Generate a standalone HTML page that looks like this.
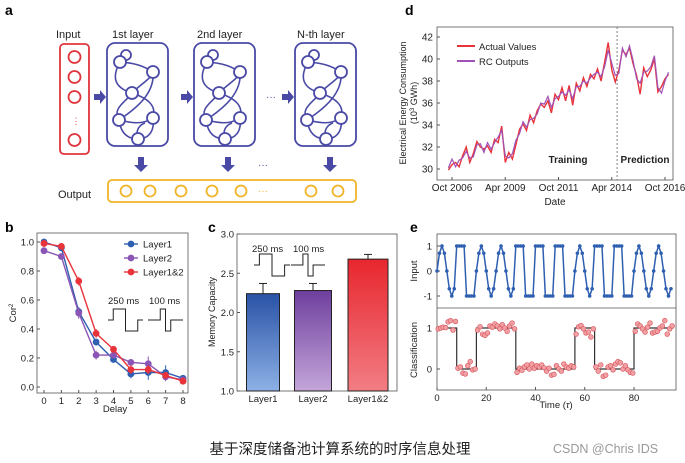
<!DOCTYPE html>
<html><head><meta charset="utf-8">
<style>
html,body{margin:0;padding:0;background:#fff;}
svg{display:block;font-family:"Liberation Sans","Noto Sans CJK SC",sans-serif;}
.t{font-size:9px;fill:#222;}
.lab{font-size:14px;font-weight:bold;fill:#000;}
</style></head>
<body>
<svg id="root" width="685" height="463" viewBox="0 0 685 463" xmlns="http://www.w3.org/2000/svg">
<defs>
<g id="net">
  <g fill="none" stroke="#4a4aa6" stroke-width="1.6">
    <path d="M13 19 C 30 20, 38 24, 46 29"/>
    <path d="M13 19 C 4 35, 8 45, 25 50"/>
    <path d="M25 50 C 35 40, 44 36, 46 29"/>
    <path d="M25 50 C 18 60, 5 65, 12 77"/>
    <path d="M25 50 C 40 55, 50 62, 46 75"/>
    <path d="M46 29 C 48 50, 30 65, 12 77"/>
    <path d="M12 77 C 25 80, 35 82, 46 75"/>
    <path d="M12 77 C 14 92, 22 96, 31 96"/>
    <path d="M46 75 C 48 90, 40 96, 31 96"/>
    <path d="M31 96 C 28 88, 32 82, 38 80"/>
  </g>
  <g fill="#fff" stroke="#4a4aa6" stroke-width="1.8">
    <circle cx="19" cy="12" r="5"/>
    <circle cx="13" cy="19" r="6"/>
    <circle cx="46" cy="29" r="6"/>
    <circle cx="25" cy="50" r="6"/>
    <circle cx="12" cy="77" r="6"/>
    <circle cx="46" cy="75" r="6"/>
    <circle cx="31" cy="96" r="6"/>
  </g>
</g>
<linearGradient id="gb" x1="0" y1="0" x2="0" y2="1"><stop offset="0" stop-color="#2a52a6"/><stop offset="1" stop-color="#8db1e6"/></linearGradient>
<linearGradient id="gp" x1="0" y1="0" x2="0" y2="1"><stop offset="0" stop-color="#6e3f9e"/><stop offset="1" stop-color="#c4a6d9"/></linearGradient>
<linearGradient id="gr" x1="0" y1="0" x2="0" y2="1"><stop offset="0" stop-color="#e8262e"/><stop offset="1" stop-color="#f27d84"/></linearGradient>
</defs>

<!-- Panel a -->
<g>
<text x="5" y="15" class="lab">a</text>
<text x="56" y="38" font-size="11" fill="#222">Input</text>
<text x="112" y="38" font-size="11" fill="#222">1st layer</text>
<text x="197" y="38" font-size="11" fill="#222">2nd layer</text>
<text x="297" y="38" font-size="11" fill="#222">N-th layer</text>
<g>
<rect x="60" y="44" width="29" height="110" rx="4" fill="#fff" stroke="#e0353d" stroke-width="1.8"/>
<g fill="none" stroke="#e0353d" stroke-width="1.8">
<circle cx="74.5" cy="57" r="6"/><circle cx="74.5" cy="77" r="6"/><circle cx="74.5" cy="97" r="6"/><circle cx="74.5" cy="140" r="6"/>
</g>
<text x="71.5" y="124" font-size="9" fill="#e0353d">⋮</text>
</g>
<g><rect x="107" y="43" width="61" height="103" rx="8" fill="#fff" stroke="#4a4aa6" stroke-width="1.8"/><use href="#net" x="107" y="43"/></g>
<g><rect x="194" y="43" width="61" height="103" rx="8" fill="#fff" stroke="#4a4aa6" stroke-width="1.8"/><use href="#net" x="194" y="43"/></g>
<g><rect x="295" y="43" width="61" height="103" rx="8" fill="#fff" stroke="#4a4aa6" stroke-width="1.8"/><use href="#net" x="295" y="43"/></g>
<g fill="#4a4aa6">
<path d="M94 94 h6 v-4 l6 7 -6 7 v-4 h-6z"/>
<path d="M181 94 h6 v-4 l6 7 -6 7 v-4 h-6z"/>
<path d="M282 94 h6 v-4 l6 7 -6 7 v-4 h-6z"/>
<path d="M138 157 h6 v8 h4 l-7 7 -7 -7 h4z"/>
<path d="M225 157 h6 v8 h4 l-7 7 -7 -7 h4z"/>
<path d="M327 157 h6 v8 h4 l-7 7 -7 -7 h4z"/>
</g>
<text x="266" y="100" font-size="10" fill="#4a4aa6">···</text>
<text x="258" y="168" font-size="10" fill="#4a4aa6">···</text>
<text x="58" y="198" font-size="11" fill="#222">Output</text>
<g>
<rect x="108" y="180" width="248" height="22" rx="4" fill="#fff" stroke="#f0b428" stroke-width="1.8"/>
<g fill="none" stroke="#f0b428" stroke-width="1.8">
<circle cx="126" cy="191" r="5.5"/><circle cx="150" cy="191" r="5.5"/><circle cx="181" cy="191" r="5.5"/><circle cx="212" cy="191" r="5.5"/><circle cx="241" cy="191" r="5.5"/><circle cx="311" cy="191" r="5.5"/><circle cx="338" cy="191" r="5.5"/>
</g>
<text x="258" y="194" font-size="10" fill="#f0b428">···</text>
</g>
</g>

<text x="405" y="15" class="lab">d</text>
<text x="208" y="232" class="lab">c</text>
<text x="5" y="232" class="lab">b</text>
<text x="410" y="232" class="lab">e</text>

<g id="pd"></g>
<g id="pb"></g>
<g id="pc"></g>
<g id="pe"></g>

<text x="340" y="454" text-anchor="middle" font-size="14.5" fill="#222">基于深度储备池计算系统的时序信息处理</text>
<text x="553" y="453" font-size="12.5" fill="#999">CSDN @Chris IDS</text>
</svg>

<script>
// ---- Panel d data (bimonthly, months from Oct 2006) ----
const dStartMonth = -2;
const dStepMonths = 2;
const dActual = [29.9,30.4,30.6, 30.2,31.2,32.0,30.6,31.4,32.5, 32.0,31.8,32.1,31.5,32.7,32.4, 33.9,30.6,31.5,30.9,32.2,33.6, 34.1,33.5,34.9,34.2,35.3,35.9, 35.6,36.2,35.1,36.8,36.3,37.4, 36.2,37.6,35.8,37.8,37.1,38.3, 37.5,38.6,38.2,39.1,38.0,39.7, 41.5,39.0,37.9,39.0,40.8,40.4, 41.0,39.6,38.5,36.8,39.2,38.4, 39.0,40.0,37.0,37.5,38.2,38.6];
const dRC =     [30.1,30.9,30.2, 30.8,31.0,31.6,31.0,31.1,32.2, 32.3,31.5,32.4,31.8,32.4,32.9, 33.5,31.2,31.0,31.4,32.6,33.2, 34.3,33.8,34.5,34.6,35.0,36.0, 35.9,36.6,35.6,36.4,36.6,37.0, 36.7,37.2,36.4,37.5,37.5,38.0, 37.8,38.3,38.6,38.8,38.4,39.3, 40.8,39.6,38.5,38.7,41.0,40.2, 41.2,39.9,38.2,37.8,38.8,38.9, 39.3,40.3,37.4,36.9,38.0,38.8];
const dTickLabels = ["Oct 2006","Apr 2009","Oct 2011","Apr 2014","Oct 2016"];
const dTickMonths = [0,30,60,90,120];
const dYTicks = [30,32,34,36,38,40,42];
const dSplitMonth = 93;

// ---- Panel b data ----
const bDelays = [0,1,2,3,4,5,6,7,8];
const bLayer1 = [1.0,0.96,0.52,0.31,0.19,0.09,0.10,0.10,0.06];
const bLayer2 = [0.94,0.90,0.51,0.22,0.22,0.17,0.16,0.07,0.05];
const bLayer12 = [0.99,0.97,0.73,0.37,0.26,0.12,0.12,0.08,0.04];
const bErr1 = [0.01,0.02,0.03,0.02,0.02,0.03,0.05,0.05,0.02];
const bErr2 = [0.01,0.02,0.04,0.03,0.02,0.02,0.05,0.03,0.02];
const bErr12 = [0.01,0.02,0.03,0.03,0.02,0.03,0.03,0.02,0.02];
const bYTicks = [0.0,0.2,0.4,0.6,0.8,1.0];

// ---- Panel c data ----
const cCategories = ["Layer1","Layer2","Layer1&2"];
const cValues = [2.24,2.28,2.68];
const cErrors = [0.13,0.09,0.06];
const cYTicks = [1.0,1.5,2.0,2.5,3.0];

// ---- Panel e data ----
const eTypes = [1,0,1,1,0,0,0,1,0,0,1,1]; // 1 = sine segment, 0 = square segment
const eSineShape = [0,0.71,1,0.71,0,-0.71,-1,-0.71];
const eSquareShape = [1,1,1,1,-1,-1,-1,-1];
const eClassPred = [0.98,1.0,1.02,1.01,1.15,1.18,0.95,1.16, 0.02,0.05,-0.1,-0.12,0.08,0.18,-0.02,0.0,
 0.95,1.03,0.85,0.82,0.88,1.05,1.02,1.1,1.05,0.98,1.08,1.0,0.92,1.05,1.12,0.98,
 -0.08,0.02,-0.03,0.05,0.1,0.0,0.12,0.02,0.08,0.05,0.1,0.03,-0.05,0.02,-0.15,-0.13,0.08,0.0,-0.05,0.12,0.05,0.02,0.08,0.05,
 0.85,1.03,1.06,0.98,0.88,0.9,0.78,0.98, 0.05,-0.05,0.1,-0.18,-0.15,0.05,0.08,-0.02,0.12,0.18,0.15,0.0,0.08,-0.02,-0.08,-0.1,
 0.92,1.1,1.05,0.98,0.9,1.02,1.12,0.88,0.9,0.92,1.0,1.05,1.18,0.85,0.98,1.05];
const eXTicks = [0,20,40,60,80];

const NS = "http://www.w3.org/2000/svg";
function mk(parent, tag, attrs){const e=document.createElementNS(NS,tag);for(const k in attrs)e.setAttribute(k,attrs[k]);parent.appendChild(e);return e;}
function txt(parent,x,y,s,size,anchor,extra){const t=mk(parent,"text",Object.assign({x:x,y:y,"font-size":size,"text-anchor":anchor||"start",fill:"#222"},extra||{}));t.textContent=s;return t;}

// ===== Panel d =====
(function(){
  const g=document.getElementById("pd");
  const L=437,R=673,T=27,B=180;
  const X=m=>452+(m/120)*(665-452);
  const Y=v=>169-(v-30)/12*(169-37);
  const box=mk(g,"rect",{x:L,y:T,width:R-L,height:B-T,fill:"none",stroke:"#555","stroke-width":0.8});
  
  
  dYTicks.forEach(v=>{mk(g,"line",{x1:L,x2:L+3,y1:Y(v),y2:Y(v),stroke:"#555"});
    const t=txt(g,L-4,Y(v)+3.5,String(v),10,"end");
    
    });
  dTickMonths.forEach((m,i)=>{mk(g,"line",{x1:X(m),x2:X(m),y1:B,y2:B-3,stroke:"#555"});
    const t=txt(g,X(m),B+11,dTickLabels[i],10,"middle");
    
    });
  const dl=mk(g,"line",{x1:X(dSplitMonth),x2:X(dSplitMonth),y1:T,y2:B,stroke:"#666","stroke-dasharray":"2,2","stroke-width":0.8});
  
  
  const pts=a=>a.map((v,i)=>X(dStartMonth+i*dStepMonths).toFixed(1)+","+Y(v).toFixed(1)).join(" ");
  const l1=mk(g,"polyline",{points:pts(dActual),fill:"none",stroke:"#e8333a","stroke-width":1.4});
  
  
  const l2=mk(g,"polyline",{points:pts(dRC),fill:"none",stroke:"#a052b8","stroke-width":1.2});
  
  
  mk(g,"line",{x1:457,x2:475,y1:46,y2:46,stroke:"#e8333a","stroke-width":2});
  const t1=txt(g,479,50,"Actual Values",9.5);
  
  
  mk(g,"line",{x1:457,x2:475,y1:61,y2:61,stroke:"#a052b8","stroke-width":2});
  const t2=txt(g,479,65,"RC Outputs",9.5);
  
  
  txt(g,568,163,"Training",10,"middle",{"font-weight":"bold"});
  txt(g,645,163,"Prediction",10,"middle",{"font-weight":"bold"});
  const xt=txt(g,555,205,"Date",10,"middle");
  
  
  const yt=mk(g,"text",{x:0,y:0,"font-size":9,"text-anchor":"middle",fill:"#222",transform:"translate(406,103) rotate(-90)"});
  yt.textContent="Electrical Energy Consumption";
  
  
  const yt2=mk(g,"text",{x:0,y:0,"font-size":9,"text-anchor":"middle",fill:"#222",transform:"translate(417,103) rotate(-90)"});
  yt2.innerHTML='(10<tspan dy="-3" font-size="6">3</tspan><tspan dy="3"> GWh)</tspan>';
  
  
})();

// square-wave inset glyph
function waves(g,x,y,w){
  mk(g,"path",{d:`M${x} ${y} h${w*0.15} v-11 h${w*0.35} v22 h${w*0.35} v-11 h${w*0.15}`,fill:"none",stroke:"#222","stroke-width":1});
}
function waves2(g,x,y,w){
  mk(g,"path",{d:`M${x} ${y} h${w*0.35} v-11 h${w*0.15} v22 h${w*0.15} v-11 h${w*0.35}`,fill:"none",stroke:"#222","stroke-width":1});
}

// ===== Panel b =====
(function(){
  const g=document.getElementById("pb");
  const L=37,R=188,T=233,B=393;
  const X=d=>44+d*(183-44)/8;
  const Y=v=>387-v*(387-242);
  mk(g,"rect",{x:L,y:T,width:R-L,height:B-T,fill:"none",stroke:"#555","stroke-width":0.8});
  bYTicks.forEach(v=>{mk(g,"line",{x1:L,x2:L+3,y1:Y(v),y2:Y(v),stroke:"#555"});
    const t=txt(g,L-3,Y(v)+3.5,v.toFixed(1),9.5,"end");
    
    });
  bDelays.forEach(d=>{mk(g,"line",{x1:X(d),x2:X(d),y1:B,y2:B-3,stroke:"#555"});
    const t=txt(g,X(d),B+11,String(d),9.5,"middle");
    
    });
  const series=[[bLayer1,bErr1,"#2f5fb0","layer1"],[bLayer2,bErr2,"#8a55b5","layer2"],[bLayer12,bErr12,"#e8333a","layer1and2"]];
  series.forEach(([vals,err,col,nm])=>{
    const pl=mk(g,"polyline",{points:vals.map((v,i)=>X(bDelays[i])+","+Y(v)).join(" "),fill:"none",stroke:col,"stroke-width":1.4});
    
    
    vals.forEach((v,i)=>{
      mk(g,"line",{x1:X(bDelays[i]),x2:X(bDelays[i]),y1:Y(v-err[i]),y2:Y(v+err[i]),stroke:col,"stroke-width":1});
      const c=mk(g,"circle",{cx:X(bDelays[i]),cy:Y(v),r:3.4,fill:col});
      
      
    });
  });
  const leg=[["Layer1","#2f5fb0",244],["Layer2","#8a55b5",258],["Layer1&2","#e8333a",272]];
  leg.forEach(([s,c,y])=>{mk(g,"line",{x1:124,x2:138,y1:y,y2:y,stroke:c,"stroke-width":1.4});mk(g,"circle",{cx:131,cy:y,r:3.4,fill:c});
    const t=txt(g,143,y+3.5,s,9.5);
    
    });
  txt(g,108,304,"250 ms",9.5);
  txt(g,149,304,"100 ms",9.5);
  waves(g,108,320,35);
  waves2(g,148,320,35);
  const xt=txt(g,115,412,"Delay",9.5,"middle");
  
  
  const yt=mk(g,"text",{x:0,y:0,"font-size":9.5,"text-anchor":"middle",fill:"#222",transform:"translate(16,313) rotate(-90)"});
  yt.innerHTML='Cor<tspan dy="-3" font-size="6">2</tspan>';
  
  
})();

// ===== Panel c =====
(function(){
  const g=document.getElementById("pc");
  const L=237,R=397,T=234,B=391;
  const Y=v=>B-(v-1)/2*(B-T);
  const centers=[263,313,368];const w=[33,37,40];
  const fills=["url(#gb)","url(#gp)","url(#gr)"];
  mk(g,"rect",{x:L,y:T,width:R-L,height:B-T,fill:"none",stroke:"#555","stroke-width":0.8});
  cYTicks.forEach(v=>{mk(g,"line",{x1:L,x2:L+3,y1:Y(v),y2:Y(v),stroke:"#555"});
    const t=txt(g,L-3,Y(v)+3.5,v.toFixed(1),9.5,"end");
    
    });
  cCategories.forEach((c,i)=>{
    const v=cValues[i];
    const r=mk(g,"rect",{x:centers[i]-w[i]/2,y:Y(v),width:w[i],height:B-Y(v),fill:fills[i],stroke:"#222","stroke-width":1});
    
    
    mk(g,"line",{x1:centers[i],x2:centers[i],y1:Y(v),y2:Y(v+cErrors[i]),stroke:"#222"});
    mk(g,"line",{x1:centers[i]-4,x2:centers[i]+4,y1:Y(v+cErrors[i]),y2:Y(v+cErrors[i]),stroke:"#222"});
    const t=txt(g,centers[i],B+11,c,9.5,"middle");
    
    
  });
  txt(g,252,252,"250 ms",9.5);
  txt(g,293,252,"100 ms",9.5);
  waves(g,254,265,36);
  waves2(g,291,265,34);
  const yt=mk(g,"text",{x:0,y:0,"font-size":9,"text-anchor":"middle",fill:"#222",transform:"translate(215,312) rotate(-90)"});
  yt.textContent="Memory Capacity";
  
  
})();

// ===== Panel e =====
(function(){
  const g=document.getElementById("pe");
  const L=437,R=676,T1=234,B1=308,B2=390;
  const X=t=>L+t*(634-L)/80;
  const Y1=v=>271-v*25;
  const Y2=v=>369-v*41;
  mk(g,"rect",{x:L,y:T1,width:R-L,height:B2-T1,fill:"none",stroke:"#555","stroke-width":0.8});
  mk(g,"line",{x1:L,x2:R,y1:B1,y2:B1,stroke:"#555","stroke-width":0.8});
  [1,0,-1].forEach(v=>{mk(g,"line",{x1:L,x2:L+3,y1:Y1(v),y2:Y1(v),stroke:"#555"});
    const t=txt(g,L-5,Y1(v)+3.5,String(v),9.5,"end");
    
    });
  [1,0].forEach(v=>{mk(g,"line",{x1:L,x2:L+3,y1:Y2(v),y2:Y2(v),stroke:"#555"});
    const t=txt(g,L-5,Y2(v)+3.5,String(v),9.5,"end");
    
    });
  eXTicks.forEach(v=>{mk(g,"line",{x1:X(v),x2:X(v),y1:B2,y2:B2-3,stroke:"#555"});
    const t=txt(g,X(v),B2+11,String(v),9.5,"middle");
    
    });
  // input signal
  const inp=[];const target=[];
  eTypes.forEach(tp=>{const sh=tp?eSineShape:eSquareShape;sh.forEach(v=>{inp.push(v);target.push(tp);});});
  const il=mk(g,"polyline",{points:inp.map((v,i)=>X(i)+","+Y1(v)).join(" "),fill:"none",stroke:"#2f5fb0","stroke-width":1.5});
  
  
  inp.forEach((v,i)=>{const c=mk(g,"circle",{cx:X(i),cy:Y1(v),r:1.8,fill:"#2f5fb0"});
    
    });
  // target step line
  let d="";
  target.forEach((v,i)=>{const x0=X(i),y=Y2(v);d+=(i===0?"M":"L")+x0+" "+y+" L"+X(i+1)+" "+y+" ";});
  const tl=mk(g,"path",{d:d,fill:"none",stroke:"#333","stroke-width":1.2});
  
  
  eClassPred.forEach((v,i)=>{const c=mk(g,"circle",{cx:X(i+0.5),cy:Y2(v),r:2.4,fill:"#f0a0a4",stroke:"#d9545b","stroke-width":0.6});
    
    });
  const xt=mk(g,"text",{x:556,y:408,"font-size":9.5,"text-anchor":"middle",fill:"#222"});
  xt.innerHTML='Time (<tspan font-style="italic">τ</tspan>)';
  
  
  const y1=mk(g,"text",{x:0,y:0,"font-size":9.5,"text-anchor":"middle",fill:"#222",transform:"translate(417,271) rotate(-90)"});
  y1.textContent="Input";
  
  
  const y2=mk(g,"text",{x:0,y:0,"font-size":9.5,"text-anchor":"middle",fill:"#222",transform:"translate(417,350) rotate(-90)"});
  y2.textContent="Classification";
  
  
})();
</script>
</body></html>
